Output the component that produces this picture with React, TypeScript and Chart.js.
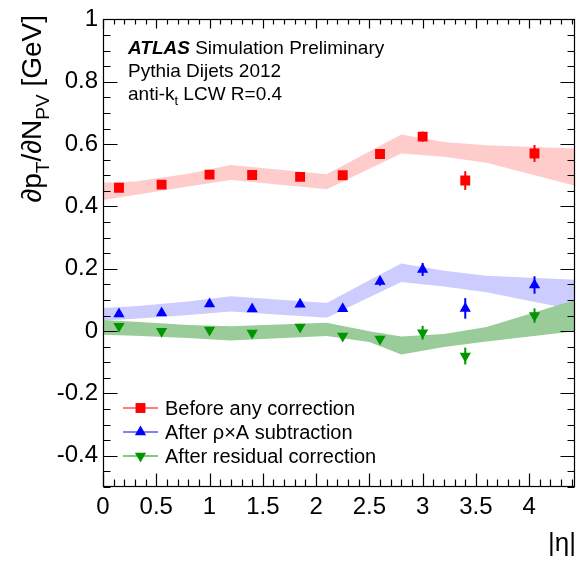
import React, { useEffect, useRef } from 'react';
import { Chart, registerables } from 'chart.js';

Chart.register(...registerables);

// ---------- data ----------
const etaCenters = [0.15, 0.55, 1.0, 1.4, 1.85, 2.25, 2.6, 3.0, 3.4, 4.05];

const beforeValues = [0.460, 0.470, 0.502, 0.501, 0.495, 0.500, 0.568, 0.624, 0.483, 0.570];
const beforeErrors = [0.005, 0.005, 0.005, 0.005, 0.005, 0.006, 0.010, 0.016, 0.030, 0.027];

const afterRhoAValues = [0.055, 0.058, 0.087, 0.071, 0.086, 0.072, 0.159, 0.198, 0.073, 0.148];
const afterRhoAErrors = [0.005, 0.005, 0.005, 0.005, 0.005, 0.006, 0.013, 0.021, 0.033, 0.028];

const afterResidualValues = [0.016, 0.000, 0.004, -0.006, 0.013, -0.016, -0.025, -0.005, -0.080, 0.050];
const afterResidualErrors = [0.005, 0.005, 0.005, 0.005, 0.005, 0.006, 0.010, 0.022, 0.027, 0.023];

const bandEta = [0, 0.3, 0.8, 1.2, 2.1, 2.5, 2.8, 3.2, 3.6, 4.43];
const redBandTop = [0.476, 0.480, 0.505, 0.533, 0.503, 0.576, 0.631, 0.607, 0.596, 0.586];
const redBandBottom = [0.421, 0.437, 0.464, 0.485, 0.455, 0.521, 0.570, 0.559, 0.540, 0.466];
const blueBandTop = [0.074, 0.080, 0.095, 0.112, 0.090, 0.163, 0.217, 0.194, 0.178, 0.165];
const blueBandBottom = [0.034, 0.040, 0.052, 0.063, 0.043, 0.109, 0.158, 0.143, 0.125, 0.068];
const greenBandTop = [0.036, 0.030, 0.020, 0.016, 0.027, 0.000, -0.017, -0.009, 0.013, 0.100];
const greenBandBottom = [-0.012, -0.015, -0.022, -0.030, -0.016, -0.035, -0.075, -0.051, -0.033, 0.000];

const xTickValues = [0, 0.5, 1, 1.5, 2, 2.5, 3, 3.5, 4];
const yTickValues = [-0.4, -0.2, 0, 0.2, 0.4, 0.6, 0.8, 1];
const xRange = [0, 4.43];
const yRange = [-0.5, 1];

const legendLabels = ['Before any correction', 'After \u03C1\u00D7A subtraction', 'After residual correction'];

// ---------- styles ----------
const FONT = '"Liberation Sans", Arial, Helvetica, sans-serif';
const RED = '#ff0000';
const BLUE = '#0000ff';
const GREEN = '#009600';
const RED_BAND = 'rgb(255,204,204)';
const BLUE_BAND = 'rgb(204,204,255)';
const GREEN_BAND = 'rgb(153,204,153)';

const pts = (xs: number[], ys: number[]) => xs.map((x, i) => ({ x, y: ys[i] }));

function markerPath(ctx: CanvasRenderingContext2D, kind: string, x: number, y: number, r: number) {
  ctx.beginPath();
  if (kind === 'rect') {
    const s = r * Math.SQRT1_2;
    ctx.rect(x - s, y - s, 2 * s, 2 * s);
  } else if (kind === 'up') {
    ctx.moveTo(x, y - r);
    ctx.lineTo(x + r * 0.866, y + r * 0.5);
    ctx.lineTo(x - r * 0.866, y + r * 0.5);
    ctx.closePath();
  } else {
    ctx.moveTo(x, y + r);
    ctx.lineTo(x + r * 0.866, y - r * 0.5);
    ctx.lineTo(x - r * 0.866, y - r * 0.5);
    ctx.closePath();
  }
}

const errorSets = [
  { values: beforeValues, errors: beforeErrors, color: RED },
  { values: afterRhoAValues, errors: afterRhoAErrors, color: BLUE },
  { values: afterResidualValues, errors: afterResidualErrors, color: GREEN },
];

const decorPlugin = {
  id: 'decor',
  afterDatasetsDraw(chart: any) {
    const { ctx, scales } = chart;
    const xs = scales.x;
    const ys = scales.y;
    ctx.save();
    ctx.lineWidth = 2;
    errorSets.forEach((s) => {
      ctx.strokeStyle = s.color;
      etaCenters.forEach((eta, i) => {
        const px = xs.getPixelForValue(eta);
        const y1 = ys.getPixelForValue(s.values[i] - s.errors[i]);
        const y2 = ys.getPixelForValue(s.values[i] + s.errors[i]);
        ctx.beginPath();
        ctx.moveTo(px, y1);
        ctx.lineTo(px, y2);
        ctx.stroke();
      });
    });
    ctx.restore();
  },
  afterDraw(chart: any) {
    const { ctx, chartArea: a, scales } = chart;
    const xs = scales.x;
    const ys = scales.y;
    const L = Math.round(a.left) + 0.5;
    const R = Math.round(a.right) - 0.5;
    const T = Math.round(a.top) + 0.5;
    const B = Math.round(a.bottom) - 0.5;
    ctx.save();
    ctx.strokeStyle = '#000';
    ctx.lineWidth = 1.2;
    ctx.strokeRect(L, T, R - L, B - T);

    // x ticks (bottom and top)
    ctx.beginPath();
    for (let i = 0; i <= 44; i++) {
      const v = i / 10;
      if (v > xRange[1]) break;
      const major = i % 5 === 0;
      const px = Math.round(xs.getPixelForValue(v)) + 0.5;
      const lb = major ? 13 : 7;
      const lt = major ? 9 : 5;
      ctx.moveTo(px, B);
      ctx.lineTo(px, B - lb);
      ctx.moveTo(px, T);
      ctx.lineTo(px, T + lt);
    }
    // y ticks (left and right)
    for (let i = -10; i <= 20; i++) {
      const v = i / 20;
      const major = i % 4 === 0 && i !== -10;
      const py = Math.round(ys.getPixelForValue(v)) + 0.5;
      const len = major ? 14 : 7;
      ctx.moveTo(L, py);
      ctx.lineTo(L + len, py);
      ctx.moveTo(R, py);
      ctx.lineTo(R - len, py);
    }
    ctx.stroke();

    // ATLAS label
    ctx.fillStyle = '#000';
    ctx.textBaseline = 'alphabetic';
    ctx.textAlign = 'left';
    let tx = 128;
    ctx.font = `italic bold 19px ${FONT}`;
    ctx.fillText('ATLAS', tx, 54);
    tx += ctx.measureText('ATLAS').width;
    ctx.font = `19px ${FONT}`;
    ctx.fillText(' Simulation Preliminary', tx, 54);
    ctx.fillText('Pythia Dijets 2012', 128, 77);
    ctx.fillText('anti-k', 128, 100);
    let ax = 128 + ctx.measureText('anti-k').width;
    ctx.font = `13px ${FONT}`;
    ctx.fillText('t', ax, 105);
    ax += ctx.measureText('t').width;
    ctx.font = `19px ${FONT}`;
    ctx.fillText(' LCW R=0.4', ax, 100);

    // legend
    const legendRows = [408, 432, 456];
    const kinds = ['rect', 'up', 'down'];
    const colors = [RED, BLUE, GREEN];
    const radii = [7, 6.5, 6.5];
    legendRows.forEach((ly, i) => {
      ctx.strokeStyle = colors[i];
      ctx.lineWidth = 1.2;
      ctx.beginPath();
      ctx.moveTo(123, ly);
      ctx.lineTo(158, ly);
      ctx.stroke();
      ctx.fillStyle = colors[i];
      markerPath(ctx, kinds[i], 140.5, ly, radii[i]);
      ctx.fill();
      ctx.fillStyle = '#000';
      ctx.font = `20px ${FONT}`;
      ctx.fillText(legendLabels[i], 165, ly + 7);
    });

    // y axis title (rotated)
    const parts: [string, number, number][] = [
      ['\u2202p', 28, 0],
      ['T', 19, 8],
      ['/\u2202N', 28, 0],
      ['PV', 19, 8],
      [' [GeV]', 28, 0],
    ];
    let total = 0;
    parts.forEach(([s, f]) => {
      ctx.font = `${f}px ${FONT}`;
      total += ctx.measureText(s).width;
    });
    ctx.translate(41, 15);
    ctx.rotate(-Math.PI / 2);
    let cx = -total;
    parts.forEach(([s, f, dy]) => {
      ctx.font = `${f}px ${FONT}`;
      ctx.fillText(s, cx, dy);
      cx += ctx.measureText(s).width;
    });
    ctx.setTransform(1, 0, 0, 1, 0, 0);

    // x axis title
    ctx.font = `26px ${FONT}`;
    ctx.textAlign = 'right';
    ctx.fillText('|\u03B7|', 576, 551);
    ctx.restore();
  },
};

export default function App() {
  const canvasRef = useRef<HTMLCanvasElement | null>(null);

  useEffect(() => {
    const canvas = canvasRef.current;
    if (!canvas) return;
    const bandLine = (data: any[], fill: any, color: string) => ({
      type: 'line',
      data,
      showLine: true,
      fill,
      backgroundColor: color,
      borderColor: 'rgba(0,0,0,0)',
      borderWidth: 0,
      pointRadius: 0,
      tension: 0,
    });
    const chart = new Chart(canvas, {
      type: 'scatter',
      data: {
        datasets: [
          bandLine(pts(bandEta, greenBandTop), 1, GREEN_BAND),
          bandLine(pts(bandEta, greenBandBottom), false, GREEN_BAND),
          bandLine(pts(bandEta, blueBandTop), 3, BLUE_BAND),
          bandLine(pts(bandEta, blueBandBottom), false, BLUE_BAND),
          bandLine(pts(bandEta, redBandTop), 5, RED_BAND),
          bandLine(pts(bandEta, redBandBottom), false, RED_BAND),
          {
            label: legendLabels[0],
            data: pts(etaCenters, beforeValues),
            pointStyle: 'rect',
            pointRadius: 7,
            pointBackgroundColor: RED,
            pointBorderWidth: 0,
            pointBorderColor: RED,
          },
          {
            label: legendLabels[1],
            data: pts(etaCenters, afterRhoAValues),
            pointStyle: 'triangle',
            pointRadius: 6.5,
            pointBackgroundColor: BLUE,
            pointBorderWidth: 0,
            pointBorderColor: BLUE,
          },
          {
            label: legendLabels[2],
            data: pts(etaCenters, afterResidualValues),
            pointStyle: 'triangle',
            pointRotation: 180,
            pointRadius: 6.5,
            pointBackgroundColor: GREEN,
            pointBorderWidth: 0,
            pointBorderColor: GREEN,
          },
        ] as any,
      },
      options: {
        responsive: false,
        animation: false,
        devicePixelRatio: 1,
        layout: { padding: { top: 16, right: 13, left: 0, bottom: 0 } },
        plugins: {
          legend: { display: false },
          tooltip: { enabled: false },
          filler: { drawTime: 'beforeDatasetsDraw' },
        } as any,
        scales: {
          x: {
            type: 'linear',
            min: xRange[0],
            max: xRange[1],
            grid: { display: false, drawTicks: false },
            border: { display: false },
            afterBuildTicks: (scale: any) => {
              scale.ticks = xTickValues.map((value) => ({ value }));
            },
            afterFit: (scale: any) => {
              scale.height = 75;
            },
            ticks: {
              padding: 6,
              maxRotation: 0,
              autoSkip: false,
              color: '#000',
              font: { family: FONT, size: 24 },
              callback: (v: any) => String(v),
            },
          },
          y: {
            type: 'linear',
            min: yRange[0],
            max: yRange[1],
            grid: { display: false, drawTicks: false },
            border: { display: false },
            afterBuildTicks: (scale: any) => {
              scale.ticks = yTickValues.map((value) => ({ value }));
            },
            afterFit: (scale: any) => {
              scale.width = 103;
            },
            ticks: {
              padding: 5,
              autoSkip: false,
              color: '#000',
              font: { family: FONT, size: 24 },
              callback: (v: any) => String(v),
            },
          },
        },
      } as any,
      plugins: [decorPlugin as any],
    });
    return () => chart.destroy();
  }, []);

  return (
    <div style={{ position: 'absolute', left: 0, top: 0, width: 588, height: 562, background: '#fff' }}>
      <canvas ref={canvasRef} width={588} height={562} style={{ display: 'block' }} />
    </div>
  );
}
